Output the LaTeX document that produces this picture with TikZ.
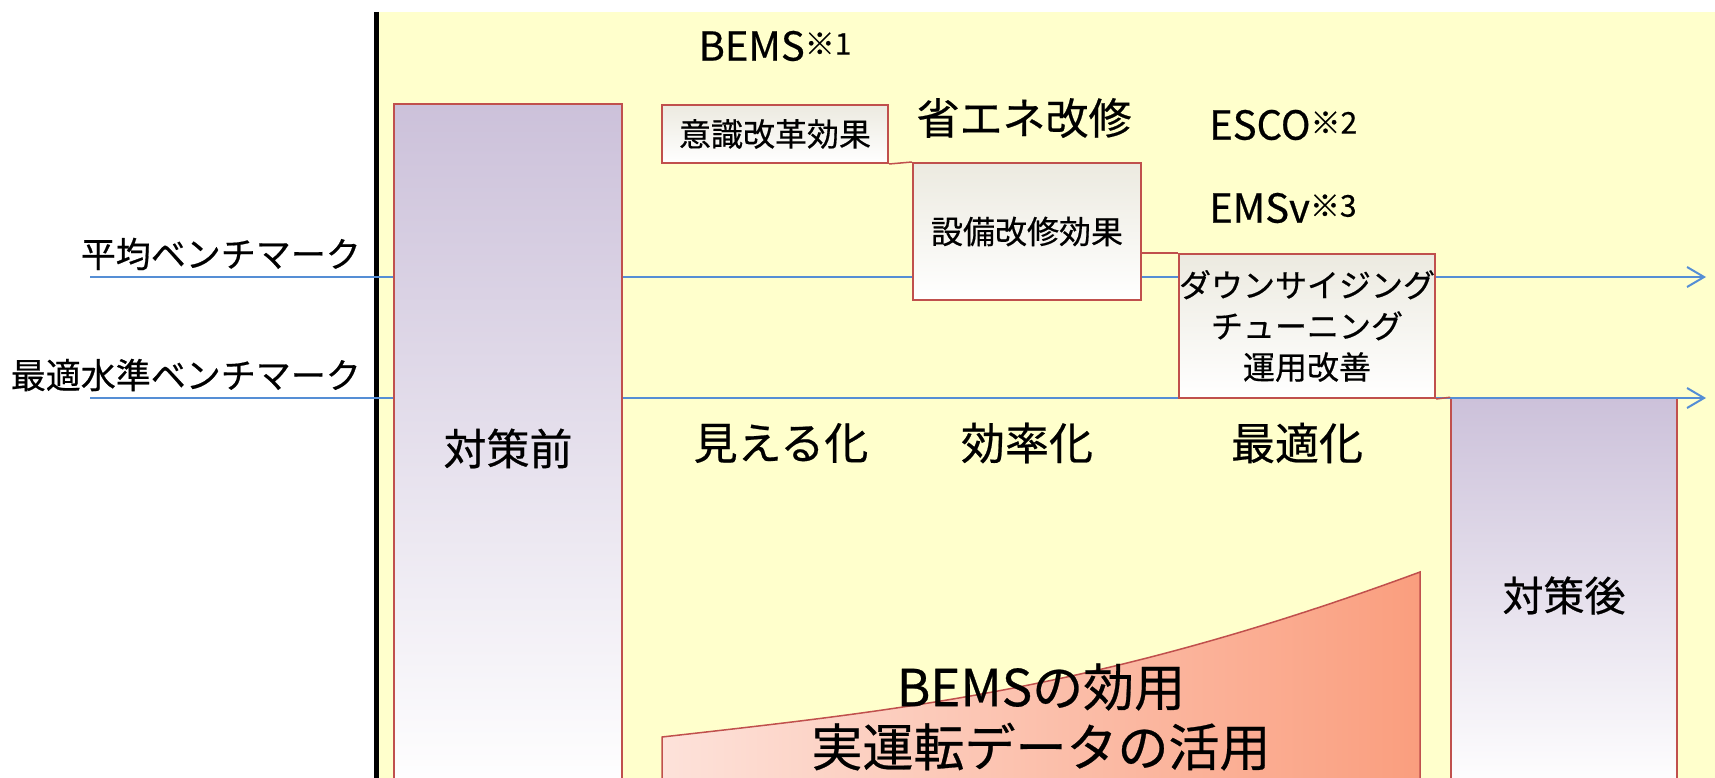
\documentclass[tikz,border=0pt]{standalone}
\usepackage{fontspec}
\setmainfont{Noto Sans CJK JP}[FakeBold=0.5]
\usepackage{xcolor}
\usepackage{tikz}
\usetikzlibrary{arrows.meta,positioning}
\definecolor{bgyellow}{RGB}{255,255,204}
\definecolor{effred}{RGB}{192,80,77}
\definecolor{barlilac}{RGB}{204,193,218}
\definecolor{boxbeige}{RGB}{236,234,224}
\definecolor{lineblue}{RGB}{85,142,213}
\definecolor{wedgepink}{RGB}{253,226,218}
\definecolor{wedgesalmon}{RGB}{250,158,126}
\newcommand{\noteref}[1]{\raisebox{6pt}{\fontsize{30}{30}\selectfont ※#1}}

\begin{document}
\begin{tikzpicture}[
  x=1pt, y=-1pt,
  bench/.style={-{Straight Barb[length=17pt,width=20pt]}, line width=2pt, draw=lineblue},
  bar/.style={rectangle, draw=effred, line width=1.5pt,
              top color=barlilac, bottom color=white,
              inner sep=0pt, font=\fontsize{43}{48}\selectfont},
  effbox/.style={rectangle, draw=effred, line width=2pt,
              top color=boxbeige, bottom color=white,
              inner sep=0pt, align=center, font=\fontsize{32}{41}\selectfont},
  stepline/.style={draw=effred, line width=1.5pt},
  lbl/.style={inner sep=0pt, font=\fontsize{35}{38}\selectfont},
  stage/.style={inner sep=0pt, font=\fontsize{44}{48}\selectfont},
  tech/.style={inner sep=0pt, font=\fontsize{40}{44}\selectfont}
]
\useasboundingbox (0,0) rectangle (1715,778);
\clip (0,0) rectangle (1715,778);

% --- Background and axis ---
\fill[bgyellow] (379,12) rectangle (1715,778);
\draw[line width=5pt] (376.5,12) -- (376.5,778);

% --- After bar (under the benchmark line) ---
\node[bar, minimum width=226pt, minimum height=395pt, font=\fontsize{41}{48}\selectfont] (after) at (1564,595.5) {対策後};

% --- Benchmark lines ---
\coordinate (avgstart) at (90,277);
\coordinate (avgend)   at (1706,277);
\coordinate (optstart) at (90,398);
\coordinate (optend)   at (1706,398);
\draw[bench] (avgstart) -- (avgend);
\draw[bench] (optstart) -- (optend);
\node[lbl, anchor=east] (avglbl) at (361,254) {平均ベンチマーク};
\node[lbl, anchor=east] (optlbl) at (361,375) {最適水準ベンチマーク};

% --- Before bar and effect boxes ---
\node[bar, minimum width=228pt, minimum height=689pt] (before) at (508,448.5) {対策前};

\node[effbox, minimum width=226pt, minimum height=58pt] (aware) at (775,134) {意識改革効果};
\node[effbox, minimum width=228pt, minimum height=137pt] (retrofit) at (1027,231.5) {設備改修効果};
\node[effbox, minimum width=256pt, minimum height=144pt] (tuning) at (1307,326) {%
ダウンサイジング\\チューニング\\運用改善};

\draw[stepline] (aware.south east) -- (retrofit.north west);
\draw[stepline] (retrofit.east |- tuning.north) -- (tuning.north west);
\draw[stepline] (tuning.south east) -- (after.north west);

% --- Measures and stages ---
\node[tech] (bems) at (775,46) {BEMS\noteref{1}};
\node[tech, font=\fontsize{43}{48}\selectfont] (saving) at (1024,118) {省エネ改修};
\node[tech, anchor=west] (esco) at (1209,125) {ESCO\noteref{2}};
\node[tech, anchor=west] (emsv) at (1209,208) {EMSv\noteref{3}};

\node[stage] (visual) at (781,443) {見える化};
\node[stage] (effic)  at (1027,443) {効率化};
\node[stage] (optim)  at (1297,443) {最適化};

% --- BEMS wedge ---
\path[draw=effred, line width=1.5pt, left color=wedgepink, right color=wedgesalmon]
  (662,793) -- (662,737) .. controls (900,710) and (1100,690) .. (1420,572) -- (1420,793) -- cycle;
\node[inner sep=0pt, align=center, font=\fontsize{51}{60}\selectfont] (usage) at (1041,717) {%
BEMSの効用\\実運転データの活用};

\end{tikzpicture}
\end{document}
